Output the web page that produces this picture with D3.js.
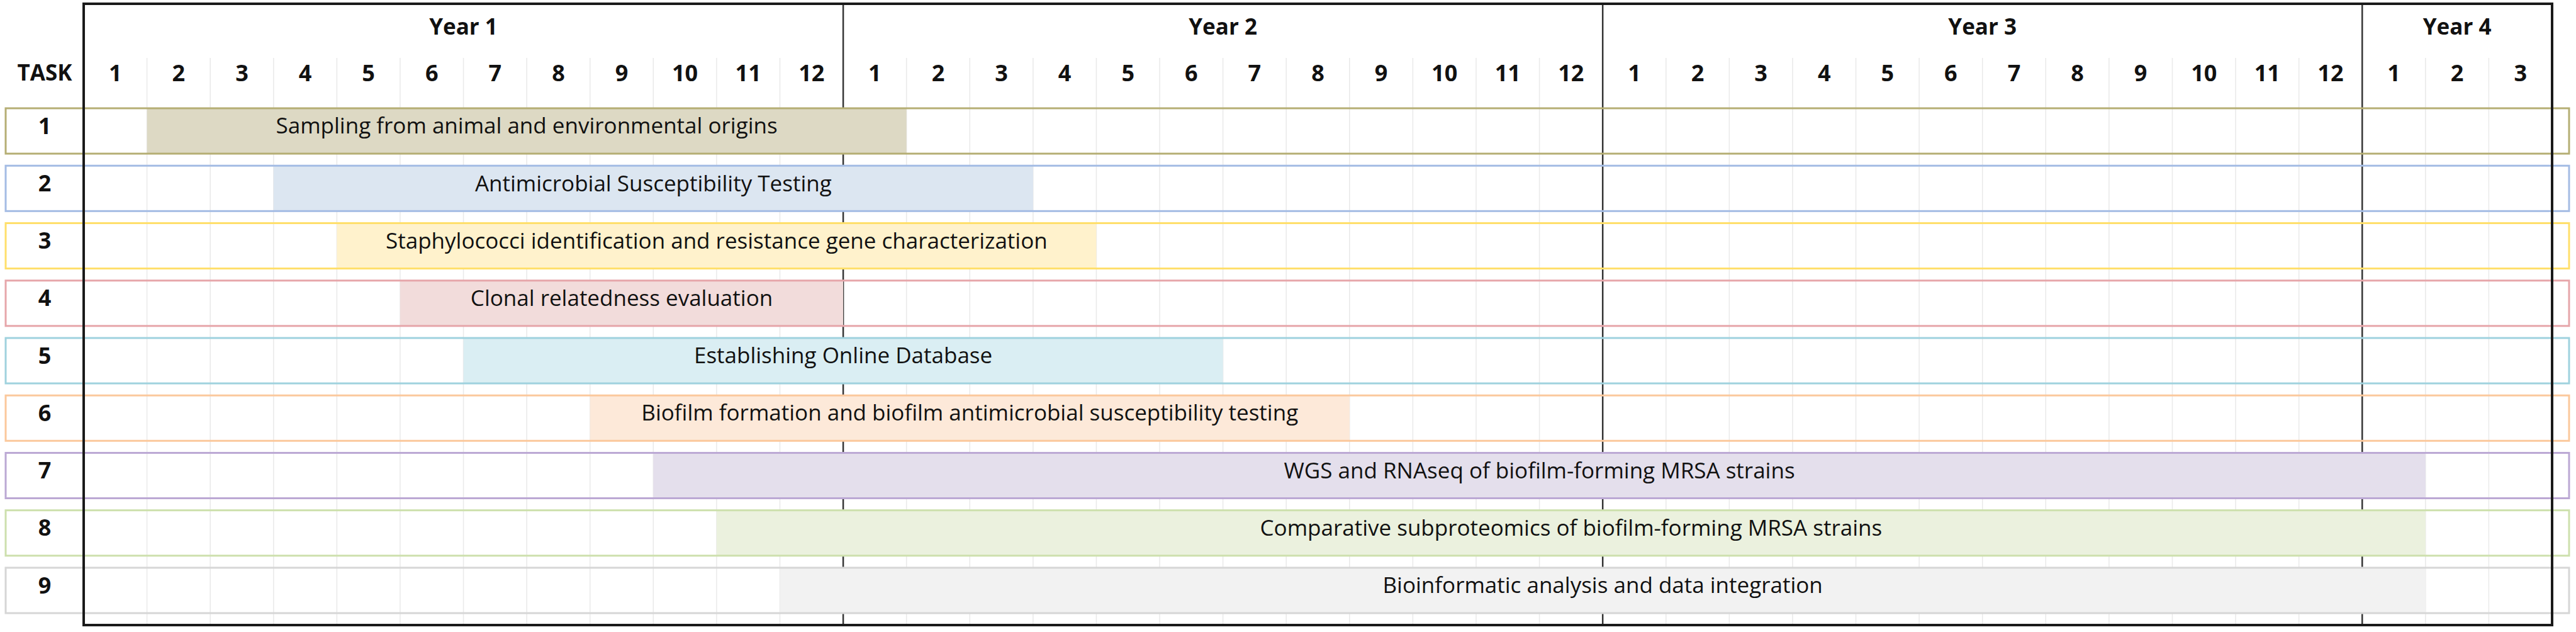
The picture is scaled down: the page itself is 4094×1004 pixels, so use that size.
<!DOCTYPE html>
<html>
<head>
<meta charset="utf-8">
<script src="https://cdn.jsdelivr.net/npm/d3@7"></script>
<style>
  html, body { margin: 0; padding: 0; background: #fff; }
  svg { display: block; }
</style>
</head>
<body>
<div id="app"></div>
<script>
// Gantt chart data: tasks, start/end months (1-based, inclusive), colours
const taskIds = ['1', '2', '3', '4', '5', '6', '7', '8', '9'];
const taskNames = [
  'Sampling from animal and environmental origins',
  'Antimicrobial Susceptibility Testing',
  'Staphylococci identification and resistance gene characterization',
  'Clonal relatedness evaluation',
  'Establishing Online Database',
  'Biofilm formation and biofilm antimicrobial susceptibility testing',
  'WGS and RNAseq of biofilm-forming MRSA strains',
  'Comparative subproteomics of biofilm-forming MRSA strains',
  'Bioinformatic analysis and data integration'
];
const startMonth = [2, 4, 5, 6, 7, 9, 10, 11, 12];
const endMonth = [13, 15, 16, 12, 18, 20, 37, 37, 37];
const barFills = ['#ddd9c4', '#dce6f1', '#fff2cc', '#f2dcdb', '#daeef3', '#fde9d9', '#e4dfec', '#ebf1de', '#f2f2f2'];
const rowBorders = ['#b5ae74', '#a4bce4', '#ffdf6b', '#e6a6aa', '#9fd2de', '#fbc89c', '#bba8d4', '#cde0ad', '#d6d6d6'];

const years = ['Year 1', 'Year 2', 'Year 3', 'Year 4'];
const yearMonths = [12, 12, 12, 3];

const width = 4094, height = 1004;
const font = '"Open Sans", "Noto Sans", sans-serif';

// month ticks built from the year lengths
const monthTicks = [];
years.forEach((yr, i) => {
  for (let m = 1; m <= yearMonths[i]; m++) monthTicks.push({ year: i, label: String(m), index: monthTicks.length });
});
const totalMonths = monthTicks.length;
const yearStarts = d3.cumsum([0].concat(yearMonths)).slice(0, years.length);

// scales
const x = d3.scaleLinear().domain([0, totalMonths]).range([133, 4056]);
const y = d3.scaleBand().domain(taskIds).range([172, 974]).paddingInner(0.21).paddingOuter(0);

const svg = d3.select('#app').append('svg')
  .attr('width', width)
  .attr('height', height)
  .style('font-family', font);

const rowLeft = 9, rowRight = 4083;
const tasks = taskIds.map((id, i) => ({
  id, name: taskNames[i], start: startMonth[i], end: endMonth[i],
  fill: barFills[i], border: rowBorders[i]
}));

// row backgrounds
svg.append('g').selectAll('rect')
  .data(tasks)
  .join('rect')
  .attr('x', rowLeft)
  .attr('y', d => y(d.id))
  .attr('width', rowRight - rowLeft)
  .attr('height', y.bandwidth())
  .attr('fill', '#fff');

// light month grid lines
svg.append('g').selectAll('line')
  .data(d3.range(1, totalMonths))
  .join('line')
  .attr('x1', d => x(d)).attr('x2', d => x(d))
  .attr('y1', 92).attr('y2', 992)
  .attr('stroke', '#e9e9e9')
  .attr('stroke-width', 1.5);

// year separators
svg.append('g').selectAll('line')
  .data(yearStarts.slice(1))
  .join('line')
  .attr('x1', d => x(d)).attr('x2', d => x(d))
  .attr('y1', 6).attr('y2', 994)
  .attr('stroke', '#333')
  .attr('stroke-width', 2.5);

// task bars
svg.append('g').selectAll('rect')
  .data(tasks)
  .join('rect')
  .attr('x', d => x(d.start - 1))
  .attr('y', d => y(d.id))
  .attr('width', d => x(d.end) - x(d.start - 1))
  .attr('height', y.bandwidth())
  .attr('fill', d => d.fill);

// row borders
svg.append('g').selectAll('rect')
  .data(tasks)
  .join('rect')
  .attr('x', rowLeft)
  .attr('y', d => y(d.id))
  .attr('width', rowRight - rowLeft)
  .attr('height', y.bandwidth())
  .attr('fill', 'none')
  .attr('stroke', d => d.border)
  .attr('stroke-width', 3);

// bar labels
svg.append('g').selectAll('text')
  .data(tasks)
  .join('text')
  .attr('x', d => (x(d.start - 1) + x(d.end)) / 2)
  .attr('y', d => y(d.id) + y.bandwidth() / 2 - 8)
  .attr('dy', '0.35em')
  .attr('text-anchor', 'middle')
  .attr('font-size', 35)
  .attr('fill', '#111')
  .text(d => d.name);

// task numbers
svg.append('g').selectAll('text')
  .data(tasks)
  .join('text')
  .attr('x', 71)
  .attr('y', d => y(d.id) + y.bandwidth() / 2 - 8)
  .attr('dy', '0.35em')
  .attr('text-anchor', 'middle')
  .attr('font-size', 36)
  .attr('font-weight', 'bold')
  .attr('fill', '#111')
  .text(d => d.id);

// outer frame lines
const frame = svg.append('g').attr('stroke', '#1a1a1a').attr('stroke-width', 4);
frame.append('line').attr('x1', x(0)).attr('x2', x(totalMonths)).attr('y1', 6).attr('y2', 6);
frame.append('line').attr('x1', x(0)).attr('x2', x(totalMonths)).attr('y1', 993).attr('y2', 993);
frame.append('line').attr('x1', x(0)).attr('x2', x(0)).attr('y1', 4).attr('y2', 995);
frame.append('line').attr('x1', x(totalMonths)).attr('x2', x(totalMonths)).attr('y1', 4).attr('y2', 995);

// header: year labels
svg.append('g').selectAll('text')
  .data(years)
  .join('text')
  .attr('x', (d, i) => x(yearStarts[i] + yearMonths[i] / 2))
  .attr('y', 43)
  .attr('dy', '0.35em')
  .attr('text-anchor', 'middle')
  .attr('font-size', 35)
  .attr('font-weight', 'bold')
  .attr('fill', '#111')
  .text(d => d);

// header: month numbers
svg.append('g').selectAll('text')
  .data(monthTicks)
  .join('text')
  .attr('x', d => x(d.index + 0.5))
  .attr('y', 116)
  .attr('dy', '0.35em')
  .attr('text-anchor', 'middle')
  .attr('font-size', 36)
  .attr('font-weight', 'bold')
  .attr('fill', '#111')
  .text(d => d.label);

svg.append('text')
  .attr('x', 71)
  .attr('y', 116)
  .attr('dy', '0.35em')
  .attr('text-anchor', 'middle')
  .attr('font-size', 35)
  .attr('font-weight', 'bold')
  .attr('fill', '#111')
  .text('TASK');
</script>
</body>
</html>
